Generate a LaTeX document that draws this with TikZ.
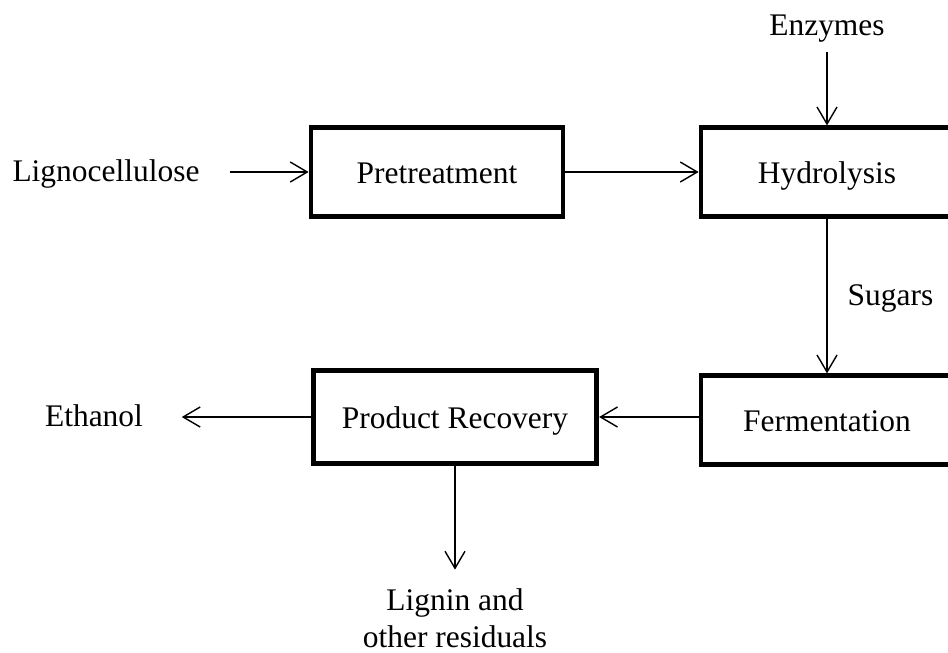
\documentclass[tikz,border=0pt]{standalone}
\usepackage{fontspec}
\setmainfont{Liberation Serif}
\usetikzlibrary{arrows.meta,positioning}

\begin{document}
\begin{tikzpicture}[
    txt/.style={inner sep=0pt, align=center,
                font=\fontsize{17.9}{21}\selectfont},
    stage/.style={txt, draw, line width=2.7pt, minimum width=5.04cm,
                  minimum height=1.77cm, text height=0.59cm,
                  text depth=0.13cm},
    lbl/.style={txt, text height=0.5cm, text depth=0.12cm},
    flow/.style={-{Straight Barb[length=0.34cm,width=0.4cm]},
                 line width=0.8pt}]

    \useasboundingbox (0,0) rectangle (18.96,-13.04);

    %% ── process stages ──────────────────────────────
    \node[stage] (pre) at (8.74,-3.44) {Pretreatment};
    \node[stage] (hyd) at (16.54,-3.44) {Hydrolysis};
    \node[stage] (fer) at (16.54,-8.40) {Fermentation};
    \node[stage, minimum width=5.67cm, minimum height=1.85cm]
      (rec) at (9.10,-8.34) {Product Recovery};

    %% ── feeds and products ──────────────────────────
    \node[lbl] (ligno) at (2.12,-3.44) {Lignocellulose};
    \node[lbl] (enz) at (16.54,-0.52) {Enzymes};
    \node[lbl] (eth) at (1.88,-8.34) {Ethanol};
    \node[txt] (lig) at (9.10,-12.37) {Lignin and\\other residuals};

    %% ── flows ───────────────────────────────────────
    \draw[flow, shorten <=0.6cm] (ligno) -- (pre);
    \draw[flow] (pre) -- (hyd);
    \draw[flow, shorten <=0.21cm] (enz) -- (hyd);
    \draw[flow] (hyd) -- node[lbl, right=0.4cm] (sug) {Sugars} (fer);
    \draw[flow] (fer.west |- rec) -- (rec);
    \draw[flow, shorten >=0.77cm] (rec) -- (eth);
    \draw[flow, shorten >=0.38cm] (rec) -- (lig);

  \end{tikzpicture}
\end{document}
